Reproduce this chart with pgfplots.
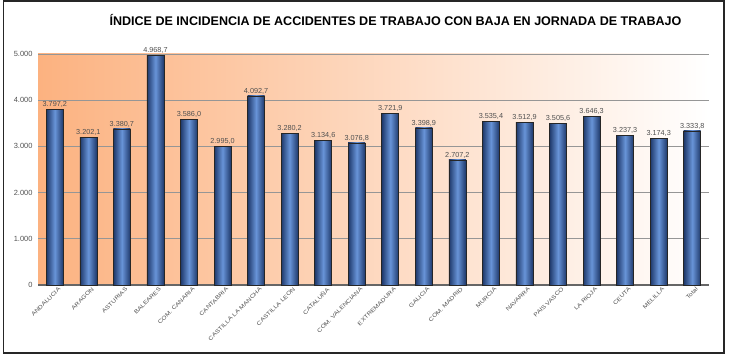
\documentclass[border=0pt]{standalone}
\usepackage{pgfplots}
\pgfplotsset{compat=1.18}
\usepackage{fontspec}
\setmainfont{Liberation Sans}
\newfontfamily\widefont[FakeStretch=1.2]{Liberation Sans}
\definecolor{bgorange}{RGB}{252,178,128}
\definecolor{barDark}{RGB}{30,56,106}
\definecolor{barLight}{RGB}{104,148,216}
\definecolor{txtgray}{RGB}{80,80,80}
\definecolor{gridgray}{RGB}{150,150,150}
\pgfplotsset{mybar/.style={ybar, bar width=17bp, bar shift=0pt, draw=black!85, line width=0.6bp,
  left color=barDark, right color=barDark, middle color=barLight,
  nodes near coords={\pgfmathprintnumber[fixed,fixed zerofill,precision=1,use comma,1000 sep={.}]{\pgfplotspointmeta}},
  nodes near coords style={font=\fontsize{7.3}{8}\selectfont, text=txtgray, anchor=south, inner sep=1.5pt, /pgf/number format/assume math mode=true}}}
\newcommand\onebar[2]{\addplot[mybar] coordinates {(#1,#2)};}
\begin{document}
\begin{tikzpicture}
\useasboundingbox (0,0) rectangle (730bp,358bp);
\draw[line width=1.6bp, black!85] (3.5bp,5bp) rectangle (724bp,357bp);
\node[font=\bfseries\fontsize{12.6}{14}\selectfont, black] at (395.5bp,338bp) {ÍNDICE DE INCIDENCIA DE ACCIDENTES DE TRABAJO CON BAJA EN JORNADA DE TRABAJO};
\begin{axis}[
  at={(38bp,73bp)}, anchor=south west,
  scale only axis, width=671bp, height=231bp,
  xmin=-0.5, xmax=19.5, ymin=0, ymax=5000,
  axis background/.style={left color=bgorange, right color=white},
  axis x line*=bottom, axis y line*=left,
  x axis line style={draw=black!60, line width=1.4bp},
  y axis line style={draw=none},
  ytick={0,1000,2000,3000,4000,5000},
  yticklabels={0,1.000,2.000,3.000,4.000,5.000},
  ymajorgrids, grid style={gridgray, line width=0.6bp},
  xtick={0,...,19},
  xticklabels={ANDALUCIA,ARAGON,ASTURIAS,BALEARES,COM. CANARIA,CANTABRIA,CASTILLA LA MANCHA,CASTILLA LEON,CATALUÑA,COM. VALENCIANA,EXTREMADURA,GALICIA,COM. MADRID,MURCIA,NAVARRA,PAIS VASCO,LA RIOJA,CEUTA,MELILLA,Total},
  xticklabel style={rotate=45, anchor=north east, font=\widefont\fontsize{5.6}{6}\selectfont, text=txtgray, inner sep=0.5pt, xshift=1.5bp, yshift=-3bp},
  major tick length=0pt,
  tick style={draw=none},
  yticklabel style={font=\fontsize{7.5}{8}\selectfont, text=txtgray, xshift=-2bp},
  clip=false,
]
\onebar{0}{3797.2}
\onebar{1}{3202.1}
\onebar{2}{3380.7}
\onebar{3}{4968.7}
\onebar{4}{3586.0}
\onebar{5}{2995.0}
\onebar{6}{4092.7}
\onebar{7}{3280.2}
\onebar{8}{3134.6}
\onebar{9}{3076.8}
\onebar{10}{3721.9}
\onebar{11}{3398.9}
\onebar{12}{2707.2}
\onebar{13}{3535.4}
\onebar{14}{3512.9}
\onebar{15}{3505.6}
\onebar{16}{3646.3}
\onebar{17}{3237.3}
\onebar{18}{3174.3}
\onebar{19}{3333.8}
\end{axis}
\end{tikzpicture}
\end{document}
